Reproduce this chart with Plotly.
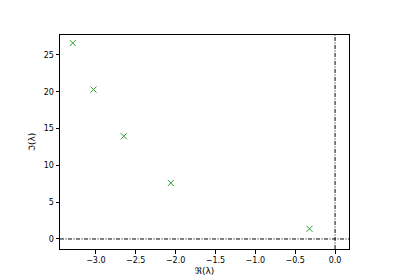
import plotly.graph_objects as go

re_vals = [-3.29, -3.03, -2.65, -2.06, -0.32]
im_vals = [26.6, 20.3, 13.95, 7.6, 1.38]
x_ticks = [-3.0, -2.5, -2.0, -1.5, -1.0, -0.5, 0.0]
x_ticktext = ["\u22123.0", "\u22122.5", "\u22122.0", "\u22121.5", "\u22121.0", "\u22120.5", "0.0"]
y_ticks = [0, 5, 10, 15, 20, 25]

fig = go.Figure()
fig.add_hline(y=0, line=dict(color="black", width=1, dash="4px,1.5px,1px,1.5px"), layer="below")
fig.add_vline(x=0, line=dict(color="black", width=1, dash="4px,1.5px,1px,1.5px"), layer="below")
fig.add_trace(go.Scatter(x=re_vals, y=im_vals, mode="markers",
                         marker=dict(symbol="x-thin", size=6, color="#2ca02c",
                                     line=dict(width=1, color="#2ca02c")),
                         showlegend=False))

axis_common = dict(showline=True, linecolor="black", linewidth=1, mirror=True,
                   ticks="outside", ticklen=3.5, tickcolor="black", showgrid=False,
                   zeroline=False, automargin=False, tickfont=dict(size=8, color="black"))
fig.update_layout(
    width=400, height=280, margin=dict(l=60, r=51, t=35, b=31, autoexpand=False),
    paper_bgcolor="white", plot_bgcolor="white",
    font=dict(family="DejaVu Sans", color="black"),
    xaxis=dict(range=[-3.45, 0.175], tickvals=x_ticks, ticktext=x_ticktext,
               title=dict(text="\u211c(\u03bb)", font=dict(size=9), standoff=3), **axis_common),
    yaxis=dict(range=[-1.36, 27.7], tickvals=y_ticks,
               title=dict(text="\u2111(\u03bb)", font=dict(size=9), standoff=6), **axis_common),
)
fig.write_html("out.html")
